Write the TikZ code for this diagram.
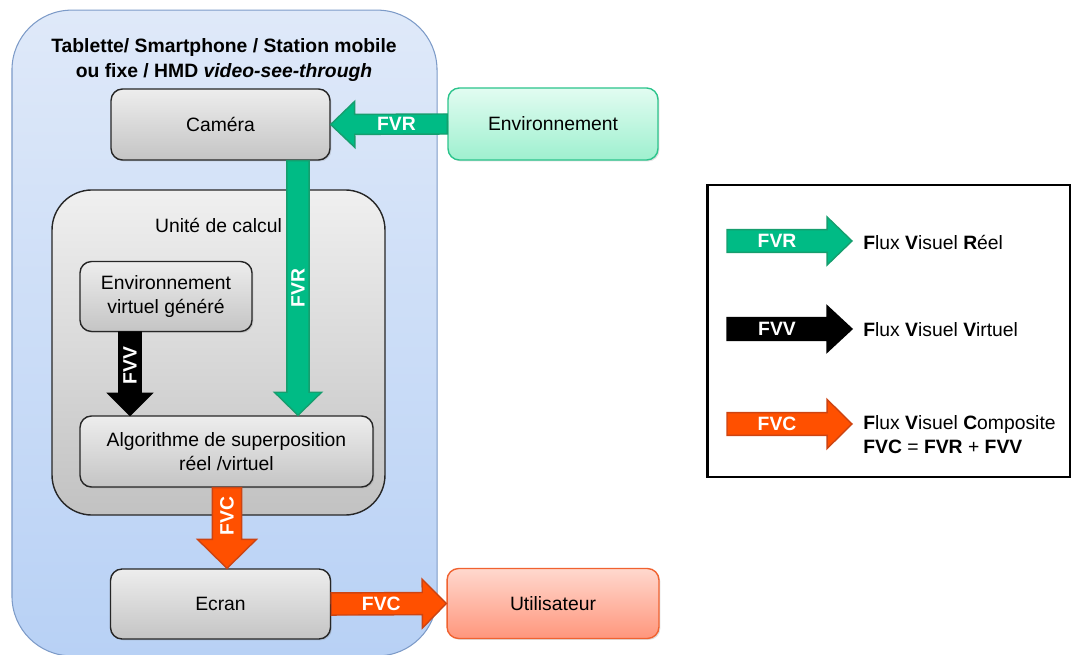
\documentclass[tikz,border=0pt]{standalone}
\usepackage{fontspec}
\setmainfont{Liberation Sans}
\usetikzlibrary{calc,shadows}

\definecolor{fvrgreen}{RGB}{0,187,133}
\definecolor{fvrdark}{RGB}{22,158,110}
\definecolor{fvcorange}{RGB}{255,80,0}
\definecolor{fvcdark}{RGB}{205,68,18}
\definecolor{devtop}{RGB}{223,233,249}
\definecolor{devbot}{RGB}{184,209,245}
\definecolor{devline}{RGB}{125,155,200}
\definecolor{envtop}{RGB}{226,252,241}
\definecolor{envbot}{RGB}{158,240,207}
\definecolor{envline}{RGB}{44,196,140}
\definecolor{usrtop}{RGB}{255,216,206}
\definecolor{usrbot}{RGB}{255,150,124}
\definecolor{usrline}{RGB}{240,98,48}

% block arrow: style, from, to, shaft half, head half, head length, label options, label
\newcommand{\flowarrow}[8]{%
  \coordinate (fa-h) at ($(#3)!#6!(#2)$);
  \filldraw[#1] ($(#2)!#4!90:(#3)$) -- ($(fa-h)!#4!90:(#3)$) -- ($(fa-h)!#5!90:(#3)$) -- (#3)
    -- ($(fa-h)!#5!-90:(#3)$) -- ($(fa-h)!#4!-90:(#3)$) -- ($(#2)!#4!-90:(#3)$) -- cycle;
  \path (#2) -- node[pos=.55, flowlbl, #7] {#8} (fa-h);
}

\tikzset{
  bloc/.style={draw=black!85, line width=0.8pt, rounded corners=6.5pt, top color=black!7,
    bottom color=black!23, align=center, inner sep=2pt,
    drop shadow={opacity=0.25, shadow xshift=0.8pt, shadow yshift=-0.8pt}},
  fvr/.style={fill=fvrgreen, draw=fvrdark, line width=0.8pt},
  fvv/.style={fill=black, draw=black, line width=0.8pt},
  fvc/.style={fill=fvcorange, draw=fvcdark, line width=0.8pt},
  flowlbl/.style={text=white, font=\fontsize{11}{13}\selectfont\bfseries, inner sep=0pt},
}

\begin{document}
\begin{tikzpicture}[x=0.5691pt, y=-0.5691pt, font=\fontsize{11}{13.7}\selectfont]
  \useasboundingbox (0,0) rectangle (1071,655);
  \clip (0,0) rectangle (1071,655);
  % device
  \node(dev) at (224.5,333)[draw=devline, line width=0.6pt, rounded corners=34pt, top color=devtop,
    bottom color=devbot, minimum width=241.9pt, minimum height=367.5pt]{};
  \node(title) at (224,60)[align=center, font=\fontsize{11}{13.7}\selectfont\bfseries]
    {Tablette/ Smartphone / Station mobile\\ou fixe / HMD \textit{video-see-through}};
  \node(unit) at (218.5,352.5)[draw=black!85, line width=0.8pt, rounded corners=22.8pt, top color=black!6,
    bottom color=black!24, minimum width=189.5pt, minimum height=185pt]{};
  \node(unitlbl) at (218.5,225){Unité de calcul};
  \node(cam) at (220.5,124.5)[bloc, minimum width=124.6pt, minimum height=40.4pt]{Caméra};
  \node(evg) at (166,296.5)[bloc, minimum width=97.9pt, minimum height=39.8pt]{Environnement\\virtuel généré};
  \node(algo) at (226.5,451.5)[bloc, minimum width=166.7pt, minimum height=40.4pt]{Algorithme de superposition\\réel /virtuel};
  \node(ecran) at (220.5,604)[bloc, minimum width=125.2pt, minimum height=39.8pt]{Ecran};
  \node(env) at (553,124)[bloc, draw=envline, top color=envtop, bottom color=envbot,
    minimum width=119.5pt, minimum height=41pt]{Environnement};
  \node(util) at (553,603.5)[bloc, draw=usrline, top color=usrtop, bottom color=usrbot,
    minimum width=120.6pt, minimum height=39.8pt]{Utilisateur};
  % flows
  \coordinate(fvrin) at (298,0 |- cam.south);
  \coordinate(fvrout) at (298,0 |- algo.north);
  \coordinate(fvvin) at (130,0 |- evg.south);
  \coordinate(fvvout) at (130,0 |- algo.north);
  \coordinate(fvcin) at (227,0 |- algo.south);
  \coordinate(fvcout) at (227,0 |- ecran.north);
  \flowarrow{fvr}{env.west}{cam.east}{5.7pt}{13.1pt}{13.7pt}{}{FVR}
  \flowarrow{fvr}{fvrin}{fvrout}{6.3pt}{13.4pt}{13.1pt}{rotate=90}{FVR}
  \flowarrow{fvv}{fvvin}{fvvout}{6.3pt}{12.5pt}{12.5pt}{rotate=90}{FVV}
  \flowarrow{fvc}{fvcin}{fvcout}{8.3pt}{16.8pt}{16.5pt}{rotate=90}{FVC}
  \flowarrow{fvc}{ecran.east}{util.west}{6.3pt}{13.9pt}{13.7pt}{}{FVC}
  % legend
  \node(leg) at (889,331)[draw, line width=1.4pt, minimum width=206.5pt, minimum height=166.2pt]{};
  \coordinate(lg1a) at (727,241); \coordinate(lg1b) at (852,241);
  \coordinate(lg2a) at (727,329); \coordinate(lg2b) at (852,329);
  \coordinate(lg3a) at (727,424); \coordinate(lg3b) at (852,424);
  \flowarrow{fvr}{lg1a}{lg1b}{6.5pt}{13.7pt}{14.2pt}{pos=.5}{FVR}
  \flowarrow{fvv}{lg2a}{lg2b}{6.5pt}{13.2pt}{14.2pt}{pos=.5}{FVV}
  \flowarrow{fvc}{lg3a}{lg3b}{6.5pt}{14pt}{14.2pt}{pos=.5}{FVC}
  \node(lgt1) at (863,242)[anchor=west, inner sep=0pt]{\textbf{F}lux \textbf{V}isuel \textbf{R}éel};
  \node(lgt2) at (863,330)[anchor=west, inner sep=0pt]{\textbf{F}lux \textbf{V}isuel \textbf{V}irtuel};
  \node(lgt3) at (863,435)[anchor=west, inner sep=0pt, align=left]
    {\textbf{F}lux \textbf{V}isuel \textbf{C}omposite\\\textbf{FVC} = \textbf{FVR} + \textbf{FVV}};
\end{tikzpicture}
\end{document}
